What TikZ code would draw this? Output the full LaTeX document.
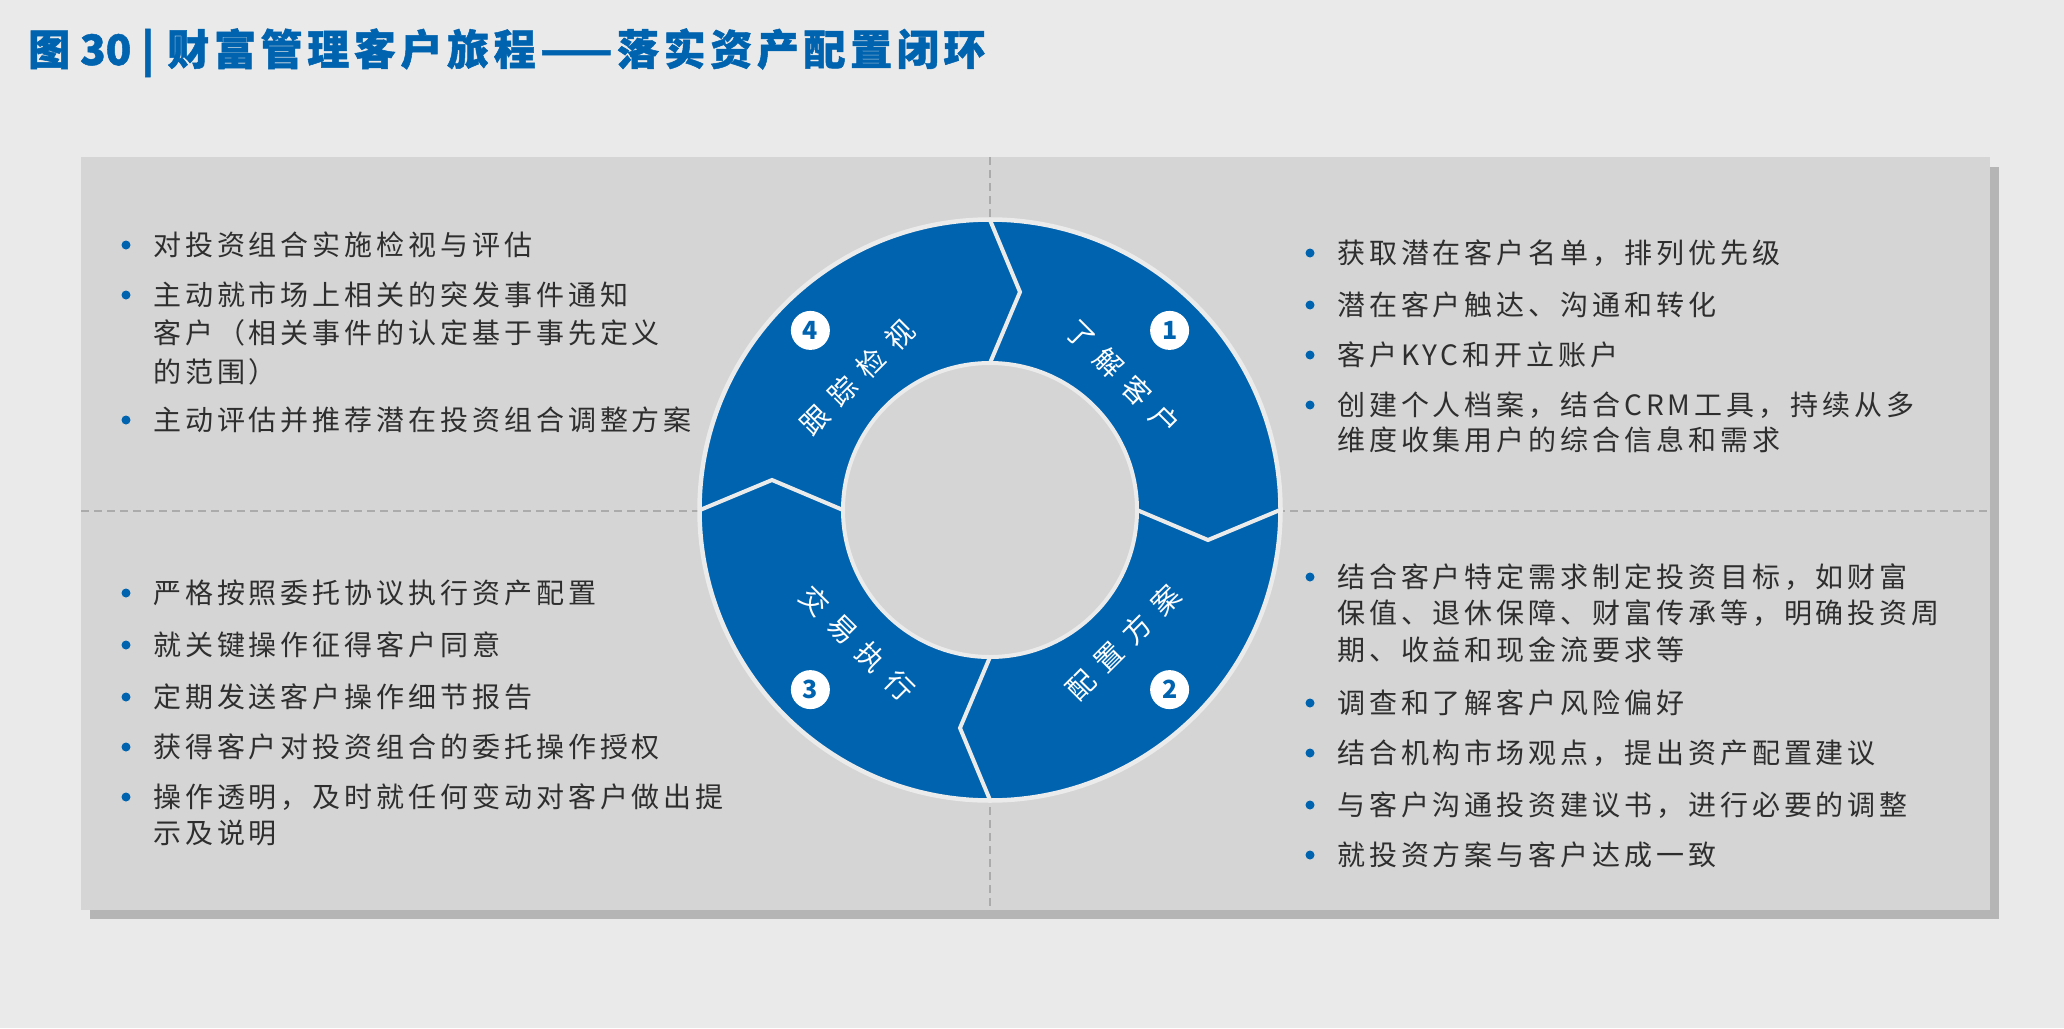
\documentclass[tikz,border=0pt]{standalone}
\usepackage{fontspec}
\usetikzlibrary{calc}
\newfontfamily\bodyfont[LetterSpace=14]{Noto Sans CJK SC}
\newfontfamily\ringfont[LetterSpace=43]{Noto Sans CJK SC}
\newfontfamily\titlefont[LetterSpace=11,FakeBold=1.2]{Noto Sans CJK SC}
\newfontfamily\titlenum[FakeBold=1.2]{Noto Sans CJK SC}
\newfontfamily\numfont{Noto Sans CJK SC}
\definecolor{bgc}{HTML}{EAEAEA}
\definecolor{panelc}{HTML}{D5D5D5}
\definecolor{shadowc}{HTML}{B5B5B5}
\definecolor{blueC}{HTML}{0063B0}
\definecolor{ringw}{HTML}{EBEBEB}
\definecolor{textc}{HTML}{2E2E2E}
\definecolor{divc}{HTML}{ABABAB}
\begin{document}
\begin{tikzpicture}[x=1pt,y=1pt,
  body/.style={font=\bodyfont\fontsize{28}{28}\selectfont, text=textc, inner sep=0pt, anchor=base west},
  dot/.style={circle, fill=blueC, inner sep=0pt, minimum size=9pt},
  ringlabel/.style={font=\ringfont\fontsize{28}{28}\selectfont, text=white, inner sep=0pt},
  badge/.style={circle, fill=white, inner sep=0pt, minimum size=39pt, text=blueC, font=\numfont\bfseries\fontsize{25}{25}\selectfont},
  seam/.style={draw=ringw, line width=4pt, line join=miter},
  divider/.style={draw=divc, line width=2pt, dash pattern=on 8pt off 5pt}
]
\fill[bgc] (0,0) rectangle (2064,-1028);
\useasboundingbox (0,0) rectangle (2064,-1028);

% title
\node[anchor=base west, inner sep=0pt, text=blueC, font=\bfseries\fontsize{42}{42}\selectfont] (title) at (28,-65)
  {{\titlenum 图\hspace{10pt}30\hspace{10pt}|\hspace{13pt}}{\titlefont 财富管理客户旅程——落实资产配置闭环}};

% panel
\fill[shadowc] (90,-167) rectangle (1999,-919);
\fill[panelc] (81,-157) rectangle (1990,-910);
\draw[divider] (990,-157) -- (990,-910);
\draw[divider] (81,-511) -- (1990,-511);

% ring
\coordinate (c) at (990,-510);
\filldraw[fill=blueC, draw=ringw, line width=4.5pt] (c) circle[radius=290.5];
\filldraw[fill=panelc, draw=ringw, line width=4pt] (c) circle[radius=147];
\draw[seam] ([shift={(0,290)}]c) -- ([shift={(30,218)}]c) -- ([shift={(0,147)}]c);
\draw[seam] ([shift={(290,0)}]c) -- ([shift={(218,-30)}]c) -- ([shift={(147,0)}]c);
\draw[seam] ([shift={(0,-290)}]c) -- ([shift={(-30,-218)}]c) -- ([shift={(0,-147)}]c);
\draw[seam] ([shift={(-290,0)}]c) -- ([shift={(-218,30)}]c) -- ([shift={(-147,0)}]c);

\node[ringlabel, rotate=-45] (l1) at ([shift={(45:188)}]c) {了解客户};
\node[ringlabel, rotate=45] (l2) at ([shift={(-45:188)}]c) {配置方案};
\node[ringlabel, rotate=-45] (l3) at ([shift={(-135:188)}]c) {交易执行};
\node[ringlabel, rotate=45] (l4) at ([shift={(135:188)}]c) {跟踪检视};
\node[badge] (n1) at ([shift={(45:254)}]c) {1};
\node[badge] (n2) at ([shift={(-45:254)}]c) {2};
\node[badge] (n3) at ([shift={(-135:254)}]c) {3};
\node[badge] (n4) at ([shift={(135:254)}]c) {4};

% upper left
\node[dot] (ulb1) at (126,-245) {};
\node[body] (ul1) at (153,-255.5) {对投资组合实施检视与评估};
\node[dot] (ulb2) at (126,-295) {};
\node[body] (ul2a) at (153,-305.5) {主动就市场上相关的突发事件通知};
\node[body] (ul2b) at (153,-343.5) {客户（相关事件的认定基于事先定义};
\node[body] (ul2c) at (153,-382.5) {的范围）};
\node[dot] (ulb3) at (126,-420) {};
\node[body] (ul3) at (153,-430.5) {主动评估并推荐潜在投资组合调整方案};

% upper right
\node[dot] (urb1) at (1310,-253) {};
\node[body] (ur1) at (1337,-263.5) {获取潜在客户名单，排列优先级};
\node[dot] (urb2) at (1310,-305) {};
\node[body] (ur2) at (1337,-315.5) {潜在客户触达、沟通和转化};
\node[dot] (urb3) at (1310,-355) {};
\node[body] (ur3) at (1337,-365.5) {客户KYC和开立账户};
\node[dot] (urb4) at (1310,-405) {};
\node[body] (ur4a) at (1337,-415.5) {创建个人档案，结合CRM工具，持续从多};
\node[body] (ur4b) at (1337,-450.5) {维度收集用户的综合信息和需求};

% lower left
\node[dot] (llb1) at (126,-593) {};
\node[body] (ll1) at (153,-603.5) {严格按照委托协议执行资产配置};
\node[dot] (llb2) at (126,-645) {};
\node[body] (ll2) at (153,-655.5) {就关键操作征得客户同意};
\node[dot] (llb3) at (126,-697) {};
\node[body] (ll3) at (153,-707.5) {定期发送客户操作细节报告};
\node[dot] (llb4) at (126,-747) {};
\node[body] (ll4) at (153,-757.5) {获得客户对投资组合的委托操作授权};
\node[dot] (llb5) at (126,-797) {};
\node[body] (ll5a) at (153,-807.5) {操作透明，及时就任何变动对客户做出提};
\node[body] (ll5b) at (153,-843.5) {示及说明};

% lower right
\node[dot] (lrb1) at (1310,-577) {};
\node[body] (lr1a) at (1337,-587.5) {结合客户特定需求制定投资目标，如财富};
\node[body] (lr1b) at (1337,-623.5) {保值、退休保障、财富传承等，明确投资周};
\node[body] (lr1c) at (1337,-660.5) {期、收益和现金流要求等};
\node[dot] (lrb2) at (1310,-703) {};
\node[body] (lr2) at (1337,-713.5) {调查和了解客户风险偏好};
\node[dot] (lrb3) at (1310,-753) {};
\node[body] (lr3) at (1337,-763.5) {结合机构市场观点，提出资产配置建议};
\node[dot] (lrb4) at (1310,-805) {};
\node[body] (lr4) at (1337,-815.5) {与客户沟通投资建议书，进行必要的调整};
\node[dot] (lrb5) at (1310,-855) {};
\node[body] (lr5) at (1337,-865.5) {就投资方案与客户达成一致};
\end{tikzpicture}
\end{document}
